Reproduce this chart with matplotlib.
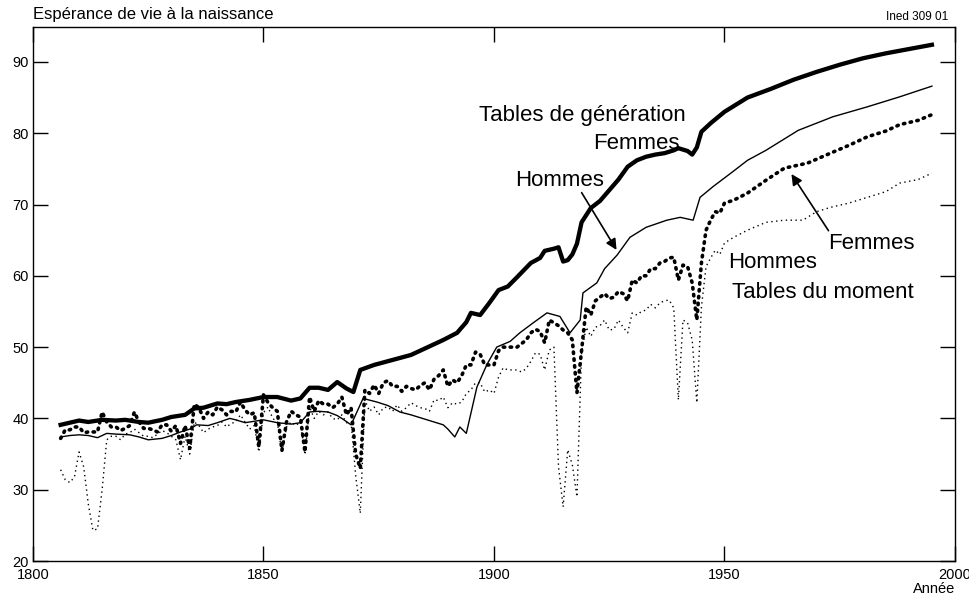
import matplotlib
matplotlib.use("Agg")
import matplotlib.pyplot as plt

plt.rcParams['font.family'] = ['Liberation Sans', 'DejaVu Sans']

# Tables de génération, femmes
gen_f_years = [1806, 1808, 1810, 1812, 1815, 1818, 1820, 1823, 1825, 1828, 1830, 1833, 1835, 1837,
               1840, 1842, 1844, 1847, 1850, 1853, 1856, 1858, 1860, 1862, 1864, 1866, 1868, 1869.5,
               1871, 1874, 1878, 1882, 1885, 1889, 1892, 1894, 1895, 1897, 1899, 1901, 1903, 1905,
               1908, 1910, 1911, 1913, 1914, 1915, 1916, 1917, 1918, 1919, 1921, 1923, 1925, 1927,
               1929, 1931, 1933, 1935, 1937, 1939, 1940, 1942, 1943, 1944, 1945, 1947, 1950, 1955,
               1960, 1965, 1970, 1975, 1980, 1985, 1990, 1995]
gen_f = [39.1, 39.4, 39.7, 39.5, 39.8, 39.7, 39.8, 39.5, 39.4, 39.8, 40.2, 40.5, 41.4, 41.5,
         42.1, 42.0, 42.3, 42.6, 43.0, 43.0, 42.5, 42.8, 44.3, 44.3, 44.0, 45.1, 44.2, 43.7,
         46.8, 47.5, 48.2, 48.9, 49.8, 51.0, 52.0, 53.5, 54.8, 54.5, 56.2, 58.0, 58.5, 59.8,
         61.8, 62.5, 63.5, 63.8, 64.0, 62.0, 62.2, 63.0, 64.5, 67.5, 69.5, 70.5, 72.0, 73.5,
         75.3, 76.2, 76.7, 77.0, 77.2, 77.6, 77.9, 77.5, 77.0, 78.0, 80.2, 81.4, 83.0, 85.0,
         86.2, 87.5, 88.6, 89.6, 90.5, 91.2, 91.8, 92.4]

# Tables de génération, hommes
gen_h_years = [1806, 1808, 1810, 1812, 1814, 1816, 1818, 1821, 1823, 1825, 1828, 1830, 1832, 1834,
               1835.5, 1838, 1840, 1842.7, 1844, 1846, 1848, 1850, 1853, 1856, 1858, 1860, 1862,
               1864, 1866, 1867, 1869, 1871.6, 1874.6, 1877, 1879.6, 1882, 1885.5, 1889, 1890,
               1891.5, 1892.6, 1894, 1896.3, 1898.5, 1900.6, 1903.5, 1905.6, 1908.5, 1911.5,
               1914.3, 1916.5, 1918.7, 1919.3, 1922.3, 1924, 1926.7, 1929.5, 1933, 1937.5, 1940.4,
               1943.2, 1944.7, 1947.5, 1951.8, 1955, 1959, 1966, 1973.5, 1981, 1988, 1995]
gen_h = [37.4, 37.6, 37.7, 37.6, 37.3, 37.9, 37.8, 37.7, 37.4, 37.0, 37.2, 37.6, 38.1, 38.5,
         39.1, 39.0, 39.4, 40.0, 39.8, 39.4, 39.6, 39.8, 39.4, 39.2, 39.4, 40.9, 41.0,
         40.9, 40.4, 40.0, 39.1, 42.8, 42.3, 41.8, 40.9, 40.5, 39.8, 39.1, 38.5,
         37.4, 38.8, 37.9, 44.4, 47.6, 50.0, 50.8, 52.0, 53.4, 54.8,
         54.3, 52.0, 53.8, 57.6, 59.0, 61.0, 62.9, 65.4, 66.8, 67.8, 68.2,
         67.8, 71.0, 72.5, 74.6, 76.2, 77.6, 80.4, 82.3, 83.7, 85.1, 86.6]

# Tables du moment, femmes
mom_f_years = list(range(1806, 1951)) + [1952, 1955, 1959, 1963, 1968, 1973, 1977, 1981, 1985,
                                         1988, 1992, 1995]
mom_f = [37.2, 38.4, 38.4, 38.8, 38.8, 38.0, 38.1, 38.1, 38.1, 40.9,   # 1806-1815
         39.5, 38.8, 38.8, 38.3, 38.6, 39.0, 40.9, 39.5, 38.6, 38.6,   # 1816-1825
         38.4, 38.1, 39.1, 39.1, 38.2, 39.0, 36.5, 39.0, 35.8, 42.0,   # 1826-1835
         41.5, 40.0, 40.9, 40.5, 41.6, 41.2, 40.5, 41.0, 40.9, 42.3,   # 1836-1845
         41.2, 40.5, 40.8, 36.0, 43.3, 42.2, 41.5, 41.0, 35.5, 39.5,   # 1846-1855
         41.0, 40.5, 40.2, 35.3, 43.0, 41.0, 42.5, 42.0, 42.0, 41.5,   # 1856-1865
         42.0, 43.0, 40.5, 41.5, 35.0, 33.0, 44.0, 43.5, 44.7, 43.5,   # 1866-1875
         45.0, 45.3, 44.5, 44.5, 43.8, 44.5, 44.2, 44.0, 44.6, 45.0,   # 1876-1885
         44.0, 45.5, 46.0, 46.8, 44.5, 45.4, 45.0, 46.0, 47.5, 47.5,   # 1886-1895
         49.3, 49.0, 47.5, 47.5, 47.5, 49.5, 50.0, 50.0, 50.0, 50.0,   # 1896-1905
         50.5, 51.0, 52.0, 52.5, 52.2, 50.6, 53.8, 53.4, 53.0, 52.4,   # 1906-1915
         52.0, 51.0, 43.6, 49.5, 55.6, 54.5, 56.5, 57.0, 57.5, 56.8,   # 1916-1925
         57.0, 57.8, 57.5, 56.5, 59.4, 59.0, 60.0, 60.0, 61.0, 61.0,   # 1926-1935
         61.8, 62.0, 62.5, 62.6, 59.4, 61.5, 61.3, 59.0, 53.8, 61.8,   # 1936-1945
         66.4, 67.8, 69.0, 68.8, 70.2,                                 # 1946-1950
         70.6, 71.6, 73.4, 75.1, 75.8, 77.2, 78.3, 79.5, 80.3, 81.2, 81.8, 82.6]

# Tables du moment, hommes
mom_h_years = list(range(1806, 1951)) + [1952, 1955, 1959, 1963, 1967, 1970, 1973, 1977, 1981,
                                         1985, 1988, 1992, 1995]
mom_h = [32.8, 31.4, 31.0, 31.8, 35.3, 33.2, 28.0, 24.3, 24.5, 30.0,   # 1806-1815
         37.0, 37.5, 37.5, 37.0, 37.8, 38.0, 38.5, 38.0, 37.5, 37.5,   # 1816-1825
         37.3, 37.8, 38.3, 38.0, 37.5, 37.0, 34.2, 37.5, 35.0, 39.5,   # 1826-1835
         39.0, 38.0, 38.5, 38.8, 39.0, 39.5, 38.8, 39.3, 39.5, 40.5,   # 1836-1845
         39.5, 38.5, 39.0, 35.3, 40.8, 41.6, 40.0, 39.5, 35.1, 38.8,   # 1846-1855
         39.5, 39.0, 39.5, 34.9, 41.6, 40.0, 41.0, 40.5, 40.9, 40.0,   # 1856-1865
         39.8, 40.5, 39.4, 39.5, 32.0, 26.7, 42.6, 41.0, 41.6, 40.5,   # 1866-1875
         41.5, 41.6, 41.0, 41.9, 41.0, 41.5, 42.2, 41.8, 41.5, 41.4,   # 1876-1885
         41.0, 42.6, 42.5, 43.0, 41.5, 42.2, 42.0, 42.3, 43.5, 44.0,   # 1886-1895
         45.0, 45.0, 43.7, 44.0, 43.5, 45.8, 47.1, 46.8, 46.8, 46.8,   # 1896-1905
         46.5, 47.0, 48.0, 49.2, 49.0, 46.8, 49.6, 50.0, 33.2, 27.6,   # 1906-1915
         35.6, 33.5, 29.0, 49.2, 52.8, 51.5, 52.8, 53.0, 53.8, 52.4,   # 1916-1925
         52.5, 53.8, 52.8, 52.0, 54.8, 54.5, 55.0, 55.2, 56.0, 55.5,   # 1926-1935
         56.2, 56.5, 56.6, 55.5, 42.6, 53.8, 53.4, 51.0, 42.2, 55.6,   # 1936-1945
         61.3, 62.5, 63.6, 63.0, 64.6,                                 # 1946-1950
         65.4, 66.4, 67.5, 67.8, 67.8, 69.0, 69.6, 70.2, 71.0, 71.8, 73.0, 73.5, 74.4]

x_ticks = [1800, 1850, 1900, 1950, 2000]
y_ticks = [20, 30, 40, 50, 60, 70, 80, 90]

fig = plt.figure(figsize=(9.7, 5.99), dpi=100)
ax = fig.add_axes([0.034, 0.0634, 0.9505, 0.8916])

ax.plot(gen_f_years, gen_f, color='black', lw=3.1, solid_joinstyle='round')
ax.plot(gen_h_years, gen_h, color='black', lw=1.0)
ax.plot(mom_f_years, mom_f, color='black', lw=2.6, linestyle=(0, (0.4, 1.5)),
        dash_capstyle='round')
ax.plot(mom_h_years, mom_h, color='black', lw=1.0, linestyle=(0, (1, 2.5)))

ax.set_xlim(1800, 2000)
ax.set_ylim(20, 94.9)
ax.set_xticks(x_ticks)
ax.set_yticks(y_ticks)
ax.tick_params(direction='in', length=11, width=1, top=True, right=True,
               labelsize=10.5, colors='black')
ax.tick_params(axis='x', pad=5)
ax.tick_params(axis='y', pad=3)
for s in ax.spines.values():
    s.set_linewidth(1.0)

fig.text(0.034, 0.963, "Espérance de vie à la naissance", fontsize=12, ha='left', va='bottom')
fig.text(0.978, 0.962, "Ined 309 01", fontsize=8.5, ha='right', va='bottom')
fig.text(0.985, 0.005, "Année", fontsize=10.5, ha='right', va='bottom')

ax.text(1919.1, 82.55, "Tables de génération", fontsize=16, ha='center', va='center')
ax.text(1930.8, 78.6, "Femmes", fontsize=16, ha='center', va='center')
ax.text(1914.3, 73.4, "Hommes", fontsize=16, ha='center', va='center')
ax.text(1981.8, 64.6, "Femmes", fontsize=16, ha='center', va='center')
ax.text(1950.8, 61.9, "Hommes", fontsize=16, ha='left', va='center')
ax.text(1951.6, 57.7, "Tables du moment", fontsize=16, ha='left', va='center')

ax.annotate("", xy=(1926.9, 63.3), xytext=(1918.7, 72.0),
            arrowprops=dict(arrowstyle='-|>', color='black', lw=1.2, mutation_scale=16))
ax.annotate("", xy=(1964.2, 74.6), xytext=(1972.9, 66.0),
            arrowprops=dict(arrowstyle='-|>', color='black', lw=1.2, mutation_scale=16))

fig.savefig("out.png", dpi=100)
